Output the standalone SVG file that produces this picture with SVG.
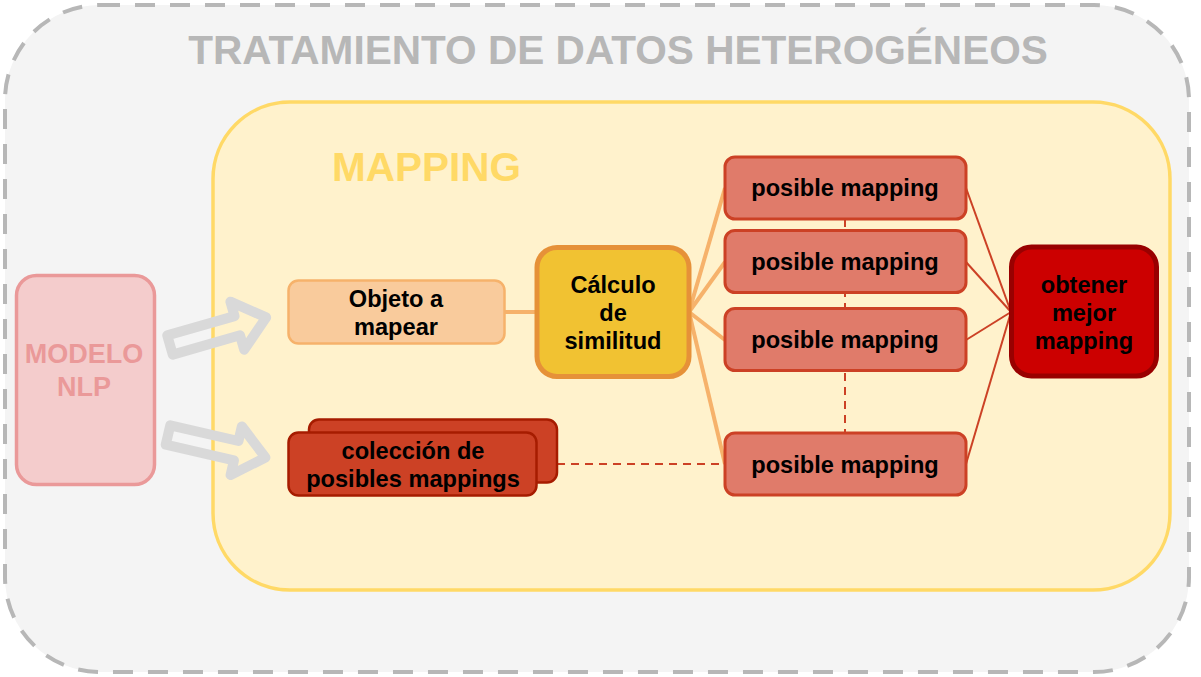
<svg xmlns="http://www.w3.org/2000/svg" width="1201" height="677" viewBox="0 0 1201 677">
<style>
text{font-family:"Liberation Sans",Arial,sans-serif;font-weight:bold;text-anchor:middle}
.t{font-size:23.6px;fill:#000}
.pm rect{fill:#e07b6a;stroke:#cc4125;stroke-width:3}
.c-or{stroke:#f6b26b;stroke-width:4;fill:none}
.c-rd{stroke:#cc4125;stroke-width:2;fill:none}
.dash{stroke-dasharray:8 6}
.barrow{fill:none;stroke:#d9d9d9;stroke-width:10;stroke-linejoin:round}
</style>
<defs>
<path id="ba" d="M0,-10 L70,-10 L70,-25 L100,0 L70,25 L70,10 L0,10 Z"/>
</defs>
<g id="outer">
<rect x="5" y="5" width="1184" height="667" rx="95" ry="95" fill="#f4f4f4" stroke="#b7b7b7" stroke-width="4" stroke-dasharray="20 15"/>
<text x="618" y="64" fill="#b7b7b7" style="font-size:40.6px">TRATAMIENTO DE DATOS HETEROGÉNEOS</text>
</g>
<g id="mapping">
<rect x="213" y="102" width="957" height="488" rx="77" ry="77" fill="#fff2cc" stroke="#ffd966" stroke-width="3.5"/>
<text x="332" y="181" style="font-size:40.5px;text-anchor:start" fill="#ffd966">MAPPING</text>
</g>
<g id="modelo">
<rect x="16.5" y="275.5" width="138" height="209" rx="20" fill="#f4cccc" stroke="#ea9999" stroke-width="3.5"/>
<text x="84" y="363" style="font-size:27px" fill="#ea9999">MODELO</text>
<text x="84" y="396" style="font-size:27px" fill="#ea9999">NLP</text>
</g>
<g id="arrows">
<use href="#ba" class="barrow" transform="translate(170,345) rotate(-16)"/>
<use href="#ba" class="barrow" transform="translate(168,435) rotate(13)"/>
</g>
<g id="connectors">
<line class="c-or" x1="504" y1="312" x2="537" y2="312"/>
<line class="c-or" x1="689" y1="312" x2="725" y2="188"/>
<line class="c-or" x1="689" y1="312" x2="725" y2="262"/>
<line class="c-or" x1="689" y1="312" x2="725" y2="340"/>
<line class="c-or" x1="689" y1="312" x2="725" y2="464"/>
<line class="c-rd dash" x1="845" y1="219" x2="845" y2="433"/>
<line class="c-rd dash" x1="557" y1="464" x2="725" y2="464"/>
<line class="c-rd" x1="966" y1="188" x2="1011" y2="312"/>
<line class="c-rd" x1="966" y1="262" x2="1011" y2="312"/>
<line class="c-rd" x1="966" y1="340" x2="1011" y2="312"/>
<line class="c-rd" x1="966" y1="464" x2="1011" y2="312"/>
</g>
<g id="objeto">
<rect x="288.5" y="280.5" width="216" height="63" rx="10" fill="#f9cb9c" stroke="#f6b26b" stroke-width="2.5"/>
<text class="t" x="396" y="307">Objeto a</text>
<text class="t" x="396" y="335">mapear</text>
</g>
<g id="calculo">
<rect x="537" y="247.5" width="152" height="129" rx="20" fill="#f1c232" stroke="#e69138" stroke-width="5"/>
<text class="t" x="613" y="293">Cálculo</text>
<text class="t" x="613" y="321">de</text>
<text class="t" x="613" y="349">similitud</text>
</g>
<g id="coleccion">
<rect x="309" y="419.5" width="248" height="63" rx="10" fill="#cc4125" stroke="#a61c00" stroke-width="2.5"/>
<rect x="288.5" y="432.5" width="248" height="63" rx="10" fill="#cc4125" stroke="#a61c00" stroke-width="2.5"/>
<text class="t" x="413" y="459">colección de</text>
<text class="t" x="413" y="487">posibles mappings</text>
</g>
<g id="pm1" class="pm">
<rect x="725" y="157" width="241" height="62" rx="10"/>
<text class="t" x="845" y="196">posible mapping</text>
</g>
<g id="pm2" class="pm">
<rect x="725" y="230.5" width="241" height="62" rx="10"/>
<text class="t" x="845" y="270">posible mapping</text>
</g>
<g id="pm3" class="pm">
<rect x="725" y="308.5" width="241" height="62" rx="10"/>
<text class="t" x="845" y="348">posible mapping</text>
</g>
<g id="pm4" class="pm">
<rect x="725" y="433" width="241" height="62" rx="10"/>
<text class="t" x="845" y="473">posible mapping</text>
</g>
<g id="obtener">
<rect x="1011.5" y="247" width="145" height="129" rx="20" fill="#cc0000" stroke="#990000" stroke-width="5"/>
<text class="t" x="1084" y="293">obtener</text>
<text class="t" x="1084" y="321">mejor</text>
<text class="t" x="1084" y="349">mapping</text>
</g>
</svg>
